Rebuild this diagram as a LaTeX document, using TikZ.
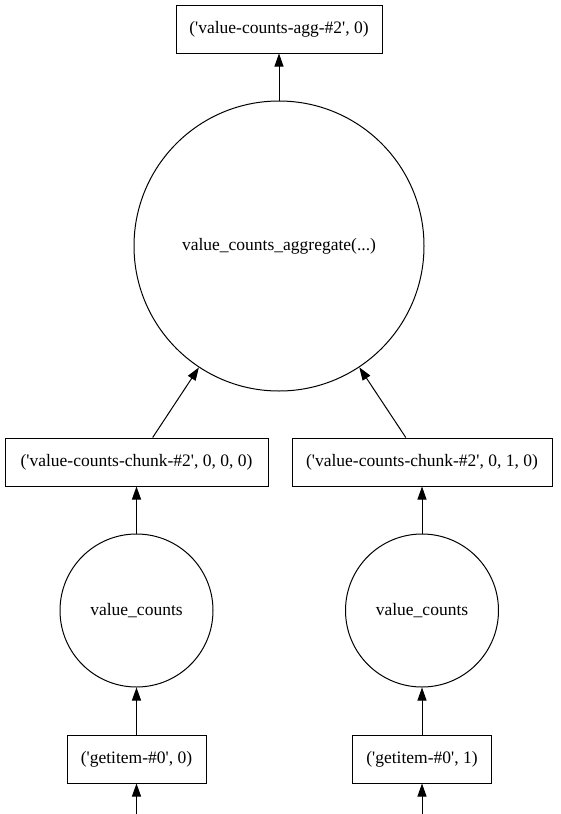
\documentclass[tikz,border=0pt]{standalone}
\usepackage{fontspec}
\setmainfont{Liberation Serif}
\usetikzlibrary{arrows.meta}
\newcommand{\qt}{\textquotesingle}

\begin{document}
\begin{tikzpicture}[x=1pt, y=1pt, line width=1pt, >={Triangle[length=13pt, width=9pt]},
  box/.style={draw, rectangle, minimum height=48pt, inner sep=0pt, font=\fontsize{17.5}{20}\selectfont},
  task/.style={draw, circle, inner sep=0pt, font=\fontsize{17.5}{20}\selectfont}]
  \useasboundingbox (0,0) rectangle (560,-814);
  \node[box, minimum width=206pt] (agg) at (279,-29) {(\qt value-counts-agg-\#2\qt, 0)};
  \node[task, minimum size=290pt] (aggfn) at (279,-246) {value\_counts\_aggregate(...)};
  \node[box, minimum width=263pt] (chunk0) at (136.5,-462) {(\qt value-counts-chunk-\#2\qt, 0, 0, 0)};
  \node[box, minimum width=260pt] (chunk1) at (422,-462) {(\qt value-counts-chunk-\#2\qt, 0, 1, 0)};
  \node[task, minimum size=153pt] (vc0) at (136.5,-610.5) {value\_counts};
  \node[task, minimum size=153pt] (vc1) at (422,-610.5) {value\_counts};
  \node[box, minimum width=139pt] (get0) at (136.5,-759) {(\qt getitem-\#0\qt, 0)};
  \node[box, minimum width=139pt] (get1) at (422,-759) {(\qt getitem-\#0\qt, 1)};
  \coordinate (in0) at (136.5,-814);
  \coordinate (in1) at (422,-814);
  \draw[->] (aggfn) -- (agg);
  \draw[->] (chunk0) -- (aggfn);
  \draw[->] (chunk1) -- (aggfn);
  \draw[->] (vc0) -- (chunk0);
  \draw[->] (vc1) -- (chunk1);
  \draw[->] (get0) -- (vc0);
  \draw[->] (get1) -- (vc1);
  \draw[->] (in0) -- (get0);
  \draw[->] (in1) -- (get1);
\end{tikzpicture}
\end{document}
